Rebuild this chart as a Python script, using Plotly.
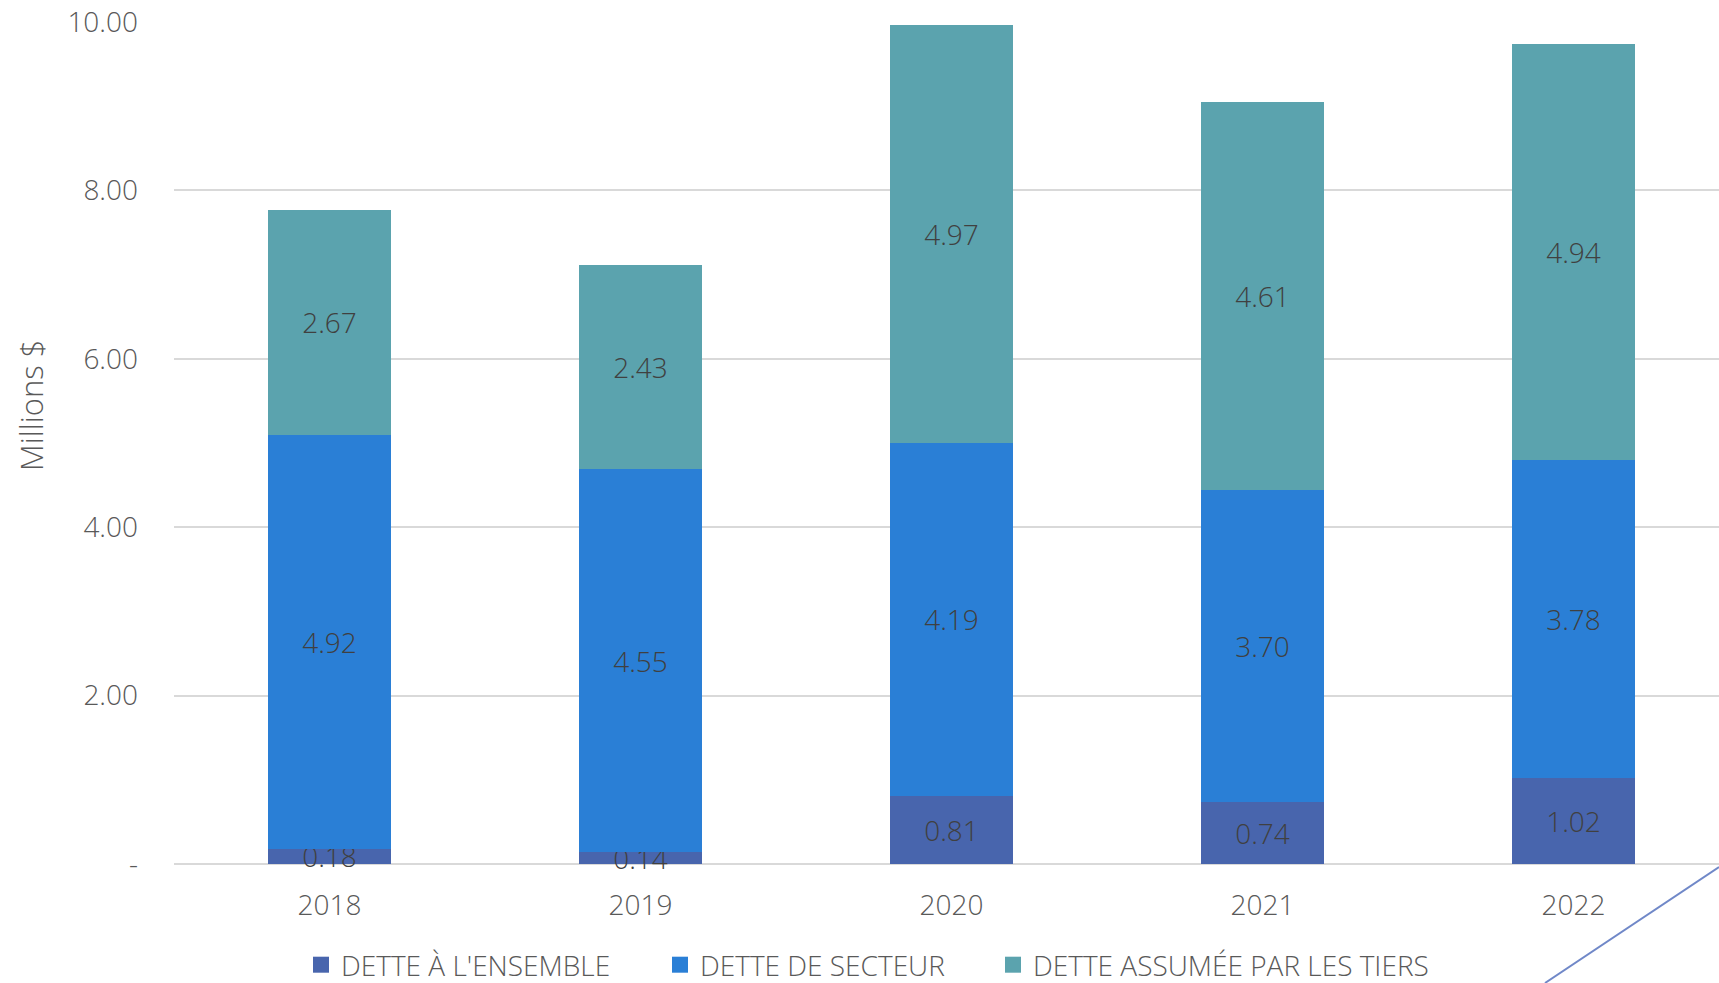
import plotly.graph_objects as go

years = ["2018", "2019", "2020", "2021", "2022"]
ensemble = [0.18, 0.14, 0.81, 0.74, 1.02]
secteur = [4.92, 4.55, 4.19, 3.70, 3.78]
tiers = [2.67, 2.43, 4.97, 4.61, 4.94]
series_names = ["DETTE À L'ENSEMBLE", "DETTE DE SECTEUR", "DETTE ASSUMÉE PAR LES TIERS"]
colors = ["#4865AD", "#2A7FD6", "#5BA3AE"]
y_ticks = [0, 2, 4, 6, 8, 10]
y_ticktext = ["-", "2.00", "4.00", "6.00", "8.00", "10.00"]

FONT = "Open Sans, Segoe UI, Lato, sans-serif"

# plot area in pixels
L, R, T, B = 174, 1719, 22, 864
W, H = R - L, B - T
CAT_W = 311  # pixel width of one category slot (chart continues past the right edge)

def px_x(p):
    return (p - L) / W

def px_y(p):
    return (B - p) / H

fig = go.Figure()
for name, vals, col in zip(series_names, [ensemble, secteur, tiers], colors):
    fig.add_trace(go.Bar(
        x=years, y=vals, name=name, showlegend=False,
        marker=dict(color=col, line=dict(width=0)),
        text=[f"{v:.2f}" for v in vals],
        textposition="inside", insidetextanchor="middle",
        constraintext="none", cliponaxis=False,
        textfont=dict(family=FONT, size=28, color="#404040", weight=300),
    ))

# legend entries (square markers), each in its own legend box
legend_centers = [331, 690, 1023]
for i, (name, col) in enumerate(zip(series_names, colors)):
    lg = "legend" if i == 0 else f"legend{i + 1}"
    fig.add_trace(go.Scatter(
        x=[None], y=[None], mode="markers", name=name, legend=lg,
        marker=dict(symbol="square", size=16, color=col),
        showlegend=True,
    ))

legend_common = dict(
    orientation="h", xanchor="left", yanchor="middle", y=px_y(965),
    font=dict(family=FONT, size=28, color="#595959", weight=300),
    itemsizing="trace", bgcolor="rgba(0,0,0,0)", borderwidth=0,
)
fig.update_layout(
    barmode="stack", bargap=0.605,
    width=1719, height=983,
    margin=dict(l=L, r=1719 - R, t=T, b=983 - B, autoexpand=False),
    paper_bgcolor="white", plot_bgcolor="white",
    font=dict(family=FONT, color="#595959", weight=300),
    showlegend=True,
    legend=dict(x=px_x(legend_centers[0] - 30), **legend_common),
    legend2=dict(x=px_x(legend_centers[1] - 30), **legend_common),
    legend3=dict(x=px_x(legend_centers[2] - 30), **legend_common),
)
fig.update_xaxes(
    range=[-0.5, -0.5 + W / CAT_W],
    showgrid=False, showline=False, zeroline=False, ticks="",
    tickfont=dict(family=FONT, size=28, color="#595959", weight=300),
    ticklabelstandoff=22,
)
fig.update_yaxes(
    range=[0, 10], tickvals=y_ticks, ticktext=y_ticktext,
    showgrid=True, gridcolor="#D9D9D9", gridwidth=2,
    zeroline=True, zerolinecolor="#D9D9D9", zerolinewidth=2,
    showline=False, ticks="",
    tickfont=dict(family=FONT, size=28, color="#595959", weight=300),
    ticklabelstandoff=35,
)
fig.add_annotation(
    text="Millions $", xref="paper", yref="paper",
    x=px_x(31), y=px_y(406), xanchor="center", yanchor="middle",
    textangle=-90, showarrow=False,
    font=dict(family=FONT, size=31, color="#595959", weight=300),
)
fig.add_shape(type="line", xref="paper", yref="paper",
              x0=px_x(1545), y0=px_y(983), x1=px_x(1719), y1=px_y(867),
              line=dict(color="#7088C8", width=2))

fig.write_html("out.html")
